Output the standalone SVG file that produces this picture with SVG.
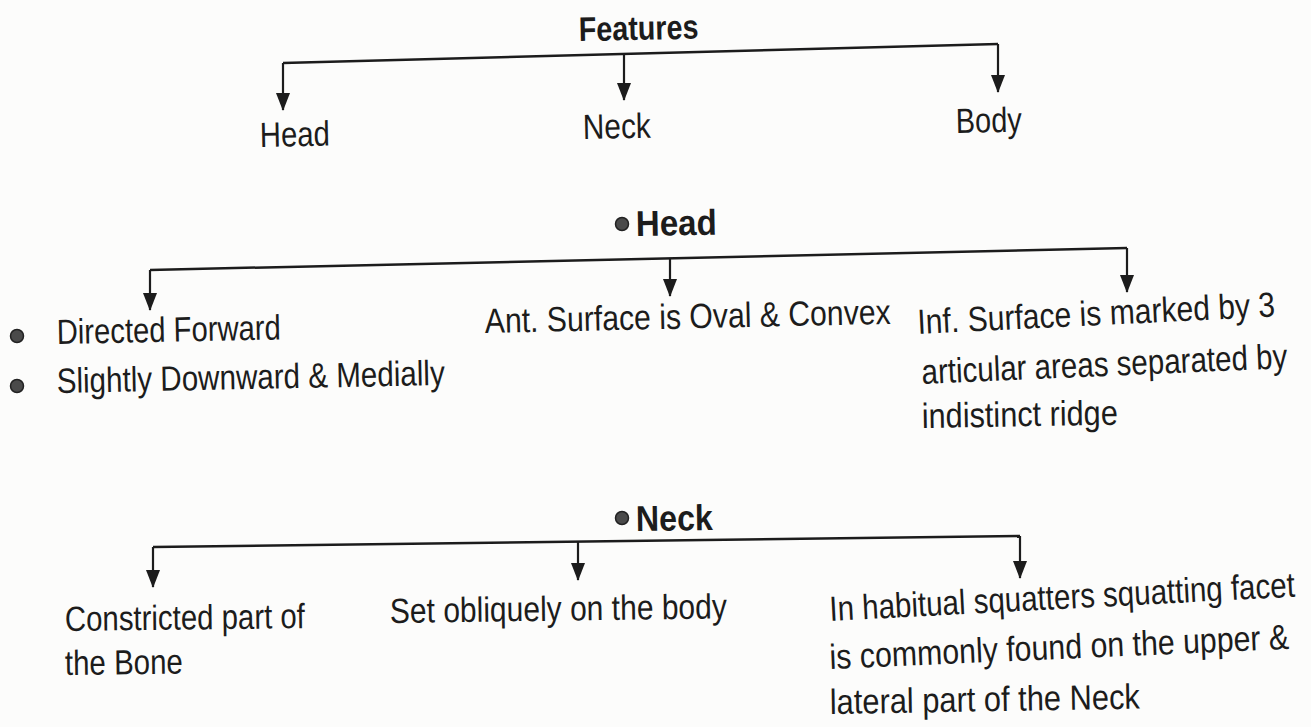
<svg xmlns="http://www.w3.org/2000/svg" width="1311" height="727" viewBox="0 0 1311 727">
<defs>
<marker id="arrd" markerUnits="userSpaceOnUse" markerWidth="14" markerHeight="18" viewBox="0 0 14 18" refX="7" refY="17" orient="0">
<path d="M0,0 L14,0 L7,18 Z" fill="#1c1c1c"/>
</marker>
</defs>
<style>
.t{font-family:"Liberation Sans",Arial,sans-serif;font-size:35px;fill:#1c1c1c}
.b{font-weight:bold;font-size:36px}
.ln{fill:none;stroke:#1c1c1c;stroke-width:2.5}
.dr{fill:none;stroke:#1c1c1c;stroke-width:2.2;marker-end:url(#arrd)}
.dot{fill:#4a4a4a;stroke:#222;stroke-width:1.5}
</style>
<rect width="1311" height="727" fill="#fcfcfb"/>

<g id="connectors">
<path class="ln" d="M283,63 L998,44"/>
<path class="dr" d="M283,63 L283,110"/>
<path class="dr" d="M624,54 L624,100"/>
<path class="dr" d="M998,44 L998,92"/>

<path class="ln" d="M150,270 L1127,248"/>
<path class="dr" d="M150,270 L150,310"/>
<path class="dr" d="M670,258 L670,296"/>
<path class="dr" d="M1127,248 L1127,292"/>

<path class="ln" d="M153,547 L1020,536"/>
<path class="dr" d="M153,547 L153,587"/>
<path class="dr" d="M578,542 L578,580"/>
<path class="dr" d="M1020,536 L1020,578"/>
</g>

<g id="features"><text class="t b" style="font-size:34px" transform="translate(579 41) rotate(-1.2) scale(0.9 1)" textLength="133" lengthAdjust="spacingAndGlyphs">Features</text></g>
<g id="head-label"><text class="t" transform="translate(260 147) rotate(-1.2) scale(0.85 1)" textLength="82.4" lengthAdjust="spacingAndGlyphs">Head</text></g>
<g id="neck-label"><text class="t" transform="translate(583 139) rotate(-1.2) scale(0.85 1)" textLength="80" lengthAdjust="spacingAndGlyphs">Neck</text></g>
<g id="body-label"><text class="t" transform="translate(956 133) rotate(-1.2) scale(0.85 1)" textLength="77.6" lengthAdjust="spacingAndGlyphs">Body</text></g>

<g id="head-title">
<circle class="dot" cx="622" cy="224" r="6.5"/>
<text class="t b" transform="translate(636 236) rotate(-1) scale(0.9 1)" textLength="90" lengthAdjust="spacingAndGlyphs">Head</text>
</g>
<g id="head-direction">
<circle class="dot" cx="17" cy="336" r="6.5"/>
<text class="t" transform="translate(57 344) rotate(-1.2) scale(0.85 1)" textLength="263.5" lengthAdjust="spacingAndGlyphs">Directed Forward</text>
<circle class="dot" cx="17" cy="386" r="6.5"/>
<text class="t" transform="translate(57 393) rotate(-1.2) scale(0.85 1)" textLength="456.5" lengthAdjust="spacingAndGlyphs">Slightly Downward &amp; Medially</text>
</g>
<g id="head-ant">
<text class="t" transform="translate(485 333) rotate(-1.3) scale(0.85 1)" textLength="477.6" lengthAdjust="spacingAndGlyphs">Ant. Surface is Oval &amp; Convex</text>
</g>
<g id="head-inf">
<text class="t" transform="translate(918 334) rotate(-2.8) scale(0.85 1)" textLength="421.2" lengthAdjust="spacingAndGlyphs">Inf. Surface is marked by 3</text>
<text class="t" transform="translate(922 384) rotate(-2.5) scale(0.85 1)" textLength="430.6" lengthAdjust="spacingAndGlyphs">articular areas separated by</text>
<text class="t" transform="translate(922 428) rotate(-1) scale(0.85 1)" textLength="230.6" lengthAdjust="spacingAndGlyphs">indistinct ridge</text>
</g>

<g id="neck-title">
<circle class="dot" cx="622" cy="518" r="6.5"/>
<text class="t b" transform="translate(636 531) rotate(-0.8) scale(0.9 1)" textLength="85.6" lengthAdjust="spacingAndGlyphs">Neck</text>
</g>
<g id="neck-constricted">
<text class="t" transform="translate(65 631) rotate(-0.7) scale(0.85 1)" textLength="282.4" lengthAdjust="spacingAndGlyphs">Constricted part of</text>
<text class="t" transform="translate(65 675) rotate(-0.7) scale(0.85 1)" textLength="138.8" lengthAdjust="spacingAndGlyphs">the Bone</text>
</g>
<g id="neck-oblique">
<text class="t" transform="translate(390 623) rotate(-0.8) scale(0.85 1)" textLength="396.5" lengthAdjust="spacingAndGlyphs">Set obliquely on the body</text>
</g>
<g id="neck-squatting">
<text class="t" transform="translate(830 621) rotate(-3) scale(0.85 1)" textLength="548.2" lengthAdjust="spacingAndGlyphs">In habitual squatters squatting facet</text>
<text class="t" transform="translate(830 669) rotate(-2.5) scale(0.85 1)" textLength="541.2" lengthAdjust="spacingAndGlyphs">is commonly found on the upper &amp;</text>
<text class="t" transform="translate(830 714) rotate(-1) scale(0.85 1)" textLength="364.7" lengthAdjust="spacingAndGlyphs">lateral part of the Neck</text>
</g>
</svg>
